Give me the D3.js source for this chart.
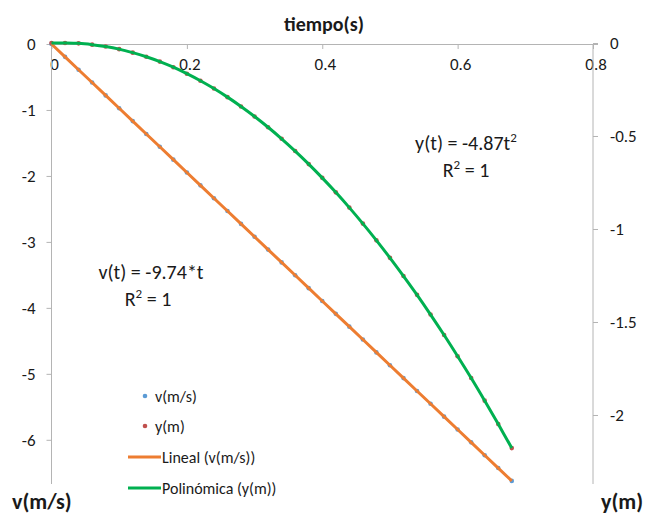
<!DOCTYPE html>
<html>
<head>
<meta charset="utf-8">
<script src="https://cdn.jsdelivr.net/npm/d3@7"></script>
<style>
  body { margin: 0; background: #fff; }
  text { font-family: Calibri, Carlito, Lato, "Open Sans", sans-serif; fill: #1a1a1a; }
  .axisTitle { font-weight: bold; }
</style>
</head>
<body>
<div class="chart"></div>
<script>
// Free fall: velocity and position against time

// Data
var tiempo = [0, 0.02, 0.04, 0.06, 0.08, 0.10, 0.12, 0.14, 0.16, 0.18, 0.20, 0.22,
  0.24, 0.26, 0.28, 0.30, 0.32, 0.34, 0.36, 0.38, 0.40, 0.42, 0.44, 0.46, 0.48,
  0.50, 0.52, 0.54, 0.56, 0.58, 0.60, 0.62, 0.64, 0.66, 0.68];
var velocidad = [0, -0.195, -0.39, -0.584, -0.779, -0.974, -1.169, -1.364, -1.558,
  -1.753, -1.948, -2.143, -2.338, -2.532, -2.727, -2.922, -3.117, -3.311, -3.506,
  -3.701, -3.896, -4.091, -4.285, -4.48, -4.675, -4.87, -5.065, -5.26, -5.454,
  -5.649, -5.844, -6.039, -6.234, -6.428, -6.623];
var posicion = [0, 0, -0.002, -0.009, -0.019, -0.033, -0.052, -0.074, -0.100,
  -0.130, -0.165, -0.203, -0.245, -0.291, -0.341, -0.395, -0.453, -0.515, -0.581,
  -0.651, -0.725, -0.803, -0.885, -0.971, -1.061, -1.155, -1.253, -1.354, -1.460,
  -1.570, -1.684, -1.801, -1.923, -2.049, -2.178];

var xTicks = [0, 0.2, 0.4, 0.6, 0.8];
var vTicks = [0, -1, -2, -3, -4, -5, -6];
var yTicks = [0, -0.5, -1, -1.5, -2];

var legendItems = ["v(m/s)", "y(m)", "Lineal (v(m/s))", "Polinómica (y(m))"];

var svgWidth = 665;
var svgHeight = 515;

var colorV = "#5b9bd5";
var colorY = "#c0504d";
var colorLineal = "#ed7d31";
var colorPoli = "#00b050";
var axisColor = "#b4b4b4";

var svg = d3.select(".chart")
  .append("svg")
  .attr("width", svgWidth)
  .attr("height", svgHeight);

// scales: x on top, two y axes (left velocity, right position)
var xScale = d3.scaleLinear().domain([0, 0.8]).range([51.5, 593]);
var vScale = d3.scaleLinear().domain([-6.67, 0]).range([484, 44]);
var yScale = d3.scaleLinear().domain([-2.371, 0]).range([484, 43]);

var data = tiempo.map((t, i) => ({ t: t, v: velocidad[i], y: posicion[i] }));

// plain hyphen instead of the unicode minus
var fmt = d => String(d);

var xAxis = svg.append("g")
  .attr("transform", `translate(0, ${vScale(0)})`)
  .call(d3.axisBottom(xScale).tickValues(xTicks).tickFormat(fmt).tickSize(5).tickPadding(9));

var leftAxis = svg.append("g")
  .attr("transform", `translate(${xScale(0)}, 0)`)
  .call(d3.axisLeft(vScale).tickValues(vTicks).tickFormat(fmt).tickSize(5).tickPadding(11));

var rightAxis = svg.append("g")
  .attr("transform", `translate(${xScale(0.8)}, 0)`)
  .call(d3.axisRight(yScale).tickValues(yTicks).tickFormat(fmt).tickSize(5).tickPadding(12));

[xAxis, leftAxis, rightAxis].forEach(function(ax) {
  ax.select(".domain").remove();
  ax.selectAll(".tick line").attr("stroke", axisColor);
  ax.selectAll(".tick text")
    .style("font-size", "17px")
    .attr("fill", "#1a1a1a");
});

// x labels shifted slightly right like the reference
xAxis.selectAll(".tick text").attr("dx", "0.15em");

// axis lines drawn by hand so they span the plot exactly
svg.append("line")
  .attr("x1", xScale(0)).attr("x2", xScale(0.8) + 5)
  .attr("y1", vScale(0) + 0.5).attr("y2", vScale(0) + 0.5)
  .attr("stroke", axisColor);
svg.append("line")
  .attr("x1", xScale(0)).attr("x2", xScale(0))
  .attr("y1", vScale(0)).attr("y2", vScale(-6.67))
  .attr("stroke", axisColor);
svg.append("line")
  .attr("x1", xScale(0.8)).attr("x2", xScale(0.8))
  .attr("y1", vScale(0)).attr("y2", vScale(-6.67))
  .attr("stroke", axisColor);

// markers
svg.append("g").selectAll("circle")
  .data(data)
  .enter()
  .append("circle")
  .attr("cx", d => xScale(d.t))
  .attr("cy", d => vScale(d.v))
  .attr("r", 2.3)
  .attr("fill", colorV);

svg.append("g").selectAll("circle")
  .data(data)
  .enter()
  .append("circle")
  .attr("cx", d => xScale(d.t))
  .attr("cy", d => yScale(d.y))
  .attr("r", 2.3)
  .attr("fill", colorY);

// trend lines
var lineV = d3.line()
  .x(d => xScale(d.t))
  .y(d => vScale(d.v));

var lineY = d3.line()
  .curve(d3.curveCatmullRom)
  .x(d => xScale(d.t))
  .y(d => yScale(d.y));

svg.append("path")
  .datum(data)
  .attr("d", lineV)
  .attr("fill", "none")
  .attr("stroke", colorLineal)
  .attr("stroke-width", 3);

svg.append("path")
  .datum(data)
  .attr("d", lineY)
  .attr("fill", "none")
  .attr("stroke", colorPoli)
  .attr("stroke-width", 3);

// titles
svg.append("text")
  .attr("class", "axisTitle")
  .attr("x", 324)
  .attr("y", 31)
  .attr("text-anchor", "middle")
  .style("font-size", "20px")
  .text("tiempo(s)");

svg.append("text")
  .attr("class", "axisTitle")
  .attr("x", 12)
  .attr("y", 509)
  .style("font-size", "22px")
  .text("v(m/s)");

svg.append("text")
  .attr("class", "axisTitle")
  .attr("x", 601)
  .attr("y", 509)
  .style("font-size", "22px")
  .text("y(m)");

// trendline equations, with a real superscript 2
function equation(x, y, before, after) {
  var t = svg.append("text")
    .attr("x", x)
    .attr("y", y)
    .attr("text-anchor", "middle")
    .style("font-size", "20px");
  t.append("tspan").text(before);
  t.append("tspan").attr("dy", -8).style("font-size", "13px").text("2");
  t.append("tspan").attr("dy", 8).text(after);
}

equation(466, 150, "y(t) = -4.87t", "");
equation(466, 177, "R", " = 1");

svg.append("text")
  .attr("x", 151)
  .attr("y", 279)
  .attr("text-anchor", "middle")
  .style("font-size", "20px")
  .text("v(t) = -9.74*t");
equation(148, 306, "R", " = 1");

// legend
var legend = svg.append("g");
var legendY = [396, 426, 457, 488];

legendItems.forEach(function(name, i) {
  var row = legend.append("g").attr("transform", `translate(0, ${legendY[i]})`);
  if (i < 2) {
    row.append("circle")
      .attr("cx", 145)
      .attr("cy", 0)
      .attr("r", 2.3)
      .attr("fill", i === 0 ? colorV : colorY);
  } else {
    row.append("line")
      .attr("x1", 128).attr("x2", 161)
      .attr("y1", 0).attr("y2", 0)
      .attr("stroke", i === 2 ? colorLineal : colorPoli)
      .attr("stroke-width", 3);
  }
  row.append("text")
    .attr("x", i < 2 ? 155 : 162)
    .attr("y", 0)
    .attr("dy", "0.35em")
    .style("font-size", "16px")
    .text(name);
});
</script>
</body>
</html>
